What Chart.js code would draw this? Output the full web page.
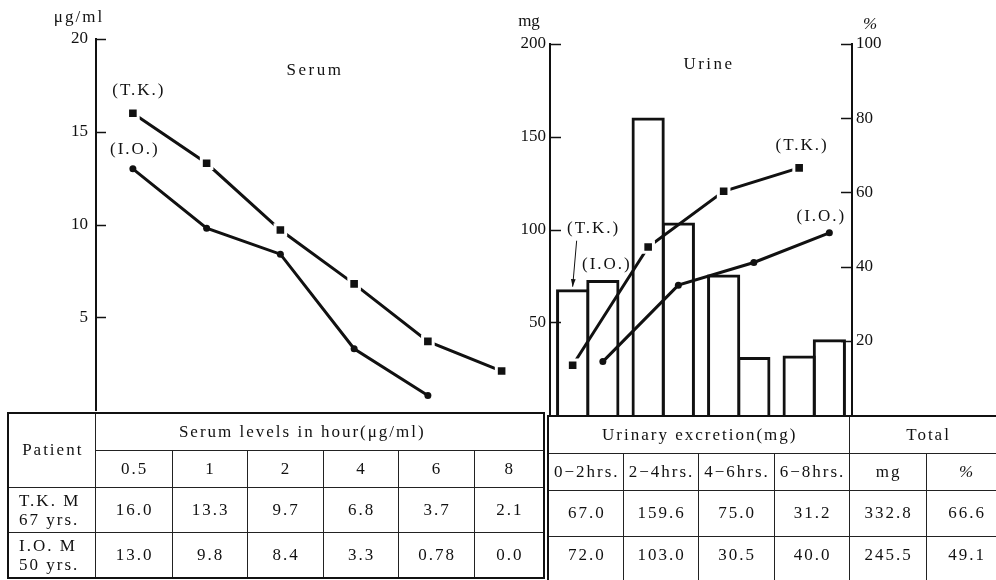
<!DOCTYPE html>
<html>
<head>
<meta charset="utf-8">
<title>Serum levels and urinary excretion</title>
<script src="https://cdn.jsdelivr.net/npm/chart.js@4.4.2/dist/chart.umd.min.js"></script>
<style>
html, body {
    margin: 0;
    padding: 0;
    background: #fff;
}
#page {
    position: relative;
    width: 996px;
    height: 580px;
    overflow: hidden;
    font-family: "Liberation Serif", "DejaVu Serif", serif;
    color: #111;
}
canvas {
    position: absolute;
    top: 0;
}
#serum { left: 0; }
#urine { left: 490px; }
table {
    position: absolute;
    border-collapse: collapse;
    table-layout: fixed;
    font-size: 17px;
    letter-spacing: 2px;
}
td {
    border: 1px solid #222;
    text-align: center;
    vertical-align: middle;
    padding: 0 0 0 2px;
    white-space: nowrap;
}
td.who {
    text-align: left;
    padding-left: 10px;
    line-height: 19px;
}
#serumTable {
    left: 7px;
    top: 412px;
    border: 2px solid #111;
}
#urineTable {
    left: 547px;
    top: 415px;
    border-left: 2px solid #111;
    border-top: 2px solid #111;
}
/* the last row runs off the bottom of the page */
#urineTable tr:last-child td {
    border-bottom: none;
    padding-bottom: 8px;
}
</style>
</head>
<body>
<div id="page">
    <canvas id="serum" width="549" height="440"></canvas>
    <canvas id="urine" width="506" height="445"></canvas>
    <table id="serumTable"></table>
    <table id="urineTable"></table>
</div>
<script>
// serum concentration (ug/ml) at each sampling hour
const serumHours = ["0.5", "1", "2", "4", "6", "8"];
const tkSerum = [16.0, 13.3, 9.7, 6.8, 3.7, 2.1];
const ioSerum = [13.0, 9.8, 8.4, 3.3, 0.78, 0.0];

// urinary excretion (mg) per collection period
const urinePeriods = ["0−2hrs.", "2−4hrs.", "4−6hrs.", "6−8hrs."];
const tkUrine = [67.0, 159.6, 75.0, 31.2];
const ioUrine = [72.0, 103.0, 30.5, 40.0];

// cumulative recovery (% of dose) at the end of each period
const tkCumPct = [13.4, 45.3, 60.3, 66.6];
const ioCumPct = [14.4, 35.0, 41.1, 49.1];

// totals: mg, %
const tkTotal = [332.8, 66.6];
const ioTotal = [245.5, 49.1];

const patients = [["T.K. M", "67 yrs."], ["I.O. M", "50 yrs."]];

const ink = "#111";
const serif = "\"Liberation Serif\", \"DejaVu Serif\", serif";
const tickFont = { family: serif, size: 17 };

// each period column holds two touching bars (T.K. left, I.O. right) filling 80% of it
const barWidth = 0.4;
const barShift = barWidth / 2;

const fmt = v => (v > 0 && v < 1) ? v.toFixed(2) : v.toFixed(1);

// short tick marks pointing into the plot, like the printed figure
const inwardTicks = {
    id: "inwardTicks",
    afterDraw(chart, args, opts) {
        const ctx = chart.ctx;
        ctx.save();
        ctx.strokeStyle = ink;
        ctx.lineWidth = 1.5;
        Object.entries(opts.length || {}).forEach(([id, len]) => {
            const s = chart.scales[id];
            const left = s.position === "left";
            const x0 = left ? s.right : s.left;
            const dir = left ? 1 : -1;
            s.ticks.forEach(t => {
                if (t.value === s.min) return;
                const y = Math.round(s.getPixelForValue(t.value)) + 0.5;
                ctx.beginPath();
                ctx.moveTo(x0, y);
                ctx.lineTo(x0 + dir * len, y);
                ctx.stroke();
            });
        });
        ctx.restore();
    }
};

// free text: titles, units and the patient tags next to the curves
const notes = {
    id: "notes",
    afterDatasetsDraw(chart, args, opts) {
        const ctx = chart.ctx;
        ctx.save();
        ctx.fillStyle = ink;
        ctx.strokeStyle = ink;
        ctx.textAlign = "center";
        ctx.textBaseline = "middle";
        const at = n => {
            if (n.dataset === undefined) return [n.x, n.y];
            const el = chart.getDatasetMeta(n.dataset).data[n.index];
            return [el.x + n.dx, el.y + n.dy];
        };
        (opts.items || []).forEach(n => {
            const [x, y] = at(n);
            ctx.font = (n.style || "") + " 17px " + serif;
            ctx.letterSpacing = n.spacing || "2px";
            ctx.fillText(n.text, x, y);
        });
        (opts.arrows || []).forEach(a => {
            const el = chart.getDatasetMeta(a.dataset).data[a.index];
            const x1 = el.x + a.from[0], y1 = el.y + a.from[1];
            const x2 = el.x + a.to[0], y2 = el.y + a.to[1];
            ctx.lineWidth = 1;
            ctx.beginPath();
            ctx.moveTo(x1, y1);
            ctx.lineTo(x2, y2);
            ctx.stroke();
            const ang = Math.atan2(y2 - y1, x2 - x1);
            ctx.beginPath();
            ctx.moveTo(x2, y2);
            ctx.lineTo(x2 - 8 * Math.cos(ang - 0.3), y2 - 8 * Math.sin(ang - 0.3));
            ctx.lineTo(x2 - 8 * Math.cos(ang + 0.3), y2 - 8 * Math.sin(ang + 0.3));
            ctx.closePath();
            ctx.fill();
        });
        ctx.restore();
    }
};

const squareMarks = {
    borderColor: ink,
    borderWidth: 3,
    pointStyle: "rect",
    pointRadius: 7.5,
    pointBackgroundColor: ink,
    pointBorderColor: "#fff",
    pointBorderWidth: 3
};
const dotMarks = {
    borderColor: ink,
    borderWidth: 3,
    pointRadius: 3.5,
    pointBackgroundColor: ink,
    pointBorderWidth: 0
};
const openBars = {
    type: "bar",
    order: 1,
    grouped: false,
    backgroundColor: "#fff",
    borderColor: ink,
    borderWidth: 3,
    inflateAmount: 1.5,
    categoryPercentage: 1,
    barPercentage: 1
};

const yAxis = (max, step, width, pos, pad) => ({
    position: pos,
    min: 0,
    max: max,
    afterFit: s => { s.width = width; },
    grid: { display: false, drawTicks: false },
    border: { display: true, color: ink, width: 2 },
    ticks: {
        stepSize: step,
        padding: pad,
        color: ink,
        font: tickFont,
        callback: v => v === 0 ? null : v
    }
});

// left panel: serum levels
new Chart(document.getElementById("serum"), {
    type: "line",
    data: {
        labels: serumHours,
        datasets: [
            Object.assign({ label: "T.K.", data: tkSerum }, squareMarks),
            // 0.0 = not detected, so the curve stops at 6 h
            Object.assign({ label: "I.O.", data: ioSerum.map(v => v > 0 ? v : null) }, dotMarks)
        ]
    },
    options: {
        responsive: false,
        animation: false,
        layout: { padding: { top: 39, bottom: 30, left: 0, right: 0 } },
        plugins: {
            legend: { display: false },
            tooltip: { enabled: false },
            inwardTicks: { length: { y: 10 } },
            notes: {
                items: [
                    { text: "μg/ml", x: 79, y: 18, spacing: "2px" },
                    { text: "Serum", x: 315, y: 71, spacing: "2.5px" },
                    { text: "(T.K.)", dataset: 0, index: 0, dx: 6, dy: -23 },
                    { text: "(I.O.)", dataset: 1, index: 0, dx: 2, dy: -19 }
                ]
            }
        },
        scales: {
            x: { display: false, offset: true },
            y: yAxis(20, 5, 96, "left", 8)
        }
    },
    plugins: [inwardTicks, notes]
});

// right panel: urinary excretion (bars, mg) and cumulative recovery (lines, %)
// x runs over the four periods, period i spans [i, i + 1]
const leftOfPair = i => i + 0.5 - barShift;
const rightOfPair = i => i + 0.5 + barShift;

new Chart(document.getElementById("urine"), {
    data: {
        datasets: [
            Object.assign({
                type: "line", label: "T.K. %", order: 0, yAxisID: "y2",
                data: tkCumPct.map((v, i) => ({ x: leftOfPair(i), y: v }))
            }, squareMarks),
            Object.assign({
                type: "line", label: "I.O. %", order: 0, yAxisID: "y2",
                data: ioCumPct.map((v, i) => ({ x: rightOfPair(i), y: v }))
            }, dotMarks),
            Object.assign({
                label: "T.K. mg", yAxisID: "y",
                data: tkUrine.map((v, i) => ({ x: leftOfPair(i), y: v }))
            }, openBars),
            Object.assign({
                label: "I.O. mg", yAxisID: "y",
                data: ioUrine.map((v, i) => ({ x: rightOfPair(i), y: v }))
            }, openBars)
        ]
    },
    options: {
        responsive: false,
        animation: false,
        layout: { padding: { top: 44, bottom: 30, left: 0, right: 0 } },
        plugins: {
            legend: { display: false },
            tooltip: { enabled: false },
            inwardTicks: { length: { y: 11, y2: 11 } },
            notes: {
                items: [
                    { text: "mg", x: 39, y: 22, spacing: "0px" },
                    { text: "%", x: 380, y: 25, style: "italic", spacing: "0px" },
                    { text: "Urine", x: 219, y: 65, spacing: "2.5px" },
                    { text: "(T.K.)", dataset: 2, index: 0, dx: 21, dy: -62 },
                    { text: "(I.O.)", dataset: 3, index: 0, dx: 4, dy: -17 },
                    { text: "(T.K.)", dataset: 0, index: 3, dx: 3, dy: -22 },
                    { text: "(I.O.)", dataset: 1, index: 3, dx: -8, dy: -16 }
                ],
                arrows: [
                    { dataset: 2, index: 0, from: [4, -50], to: [0, -4] }
                ]
            }
        },
        scales: {
            x: { type: "linear", display: false, min: 0, max: urinePeriods.length, offset: false, ticks: { stepSize: 1 } },
            y: yAxis(200, 50, 60, "left", 4),
            y2: yAxis(100, 20, 144, "right", 4)
        }
    },
    plugins: [inwardTicks, notes]
});

// data tables under the panels
const addRow = (table, height) => {
    const tr = table.insertRow();
    tr.style.height = height + "px";
    return tr;
};
const addCell = (tr, text, opts = {}) => {
    const td = tr.insertCell();
    td.textContent = text;
    if (opts.rowSpan) td.rowSpan = opts.rowSpan;
    if (opts.colSpan) td.colSpan = opts.colSpan;
    if (opts.cls) td.className = opts.cls;
    if (opts.style) Object.assign(td.style, opts.style);
    return td;
};
const setCols = (table, widths) => {
    const cg = document.createElement("colgroup");
    widths.forEach(w => {
        const c = document.createElement("col");
        c.style.width = w + "px";
        cg.appendChild(c);
    });
    table.appendChild(cg);
    table.style.width = widths.reduce((a, b) => a + b, 0) + "px";
};
const whoCell = (tr, lines) => {
    const td = addCell(tr, "", { cls: "who" });
    td.innerHTML = lines.join("<br>");
};

const st = document.getElementById("serumTable");
setCols(st, [87, 77, 75, 76, 75, 76, 70]);
let r = addRow(st, 37);
addCell(r, "Patient", { rowSpan: 2 });
addCell(r, "Serum levels in hour(μg/ml)", { colSpan: 6, style: { paddingRight: "36px" } });
r = addRow(st, 37);
serumHours.forEach(h => addCell(r, h));
[[patients[0], tkSerum], [patients[1], ioSerum]].forEach(([who, vals], i) => {
    const tr = addRow(st, i === 0 ? 45 : 46);
    whoCell(tr, who);
    vals.forEach(v => addCell(tr, fmt(v)));
});

const ut = document.getElementById("urineTable");
setCols(ut, [75, 75, 76, 75, 77, 80]);
r = addRow(ut, 37);
addCell(r, "Urinary excretion(mg)", { colSpan: 4 });
addCell(r, "Total", { colSpan: 2 });
r = addRow(ut, 37);
urinePeriods.forEach(p => addCell(r, p));
addCell(r, "mg");
addCell(r, "%", { style: { fontStyle: "italic" } });
[[tkUrine, tkTotal], [ioUrine, ioTotal]].forEach(([vals, tot], i) => {
    const tr = addRow(ut, i === 0 ? 46 : 46);
    vals.forEach(v => addCell(tr, fmt(v)));
    tot.forEach(v => addCell(tr, fmt(v)));
});
</script>
</body>
</html>
